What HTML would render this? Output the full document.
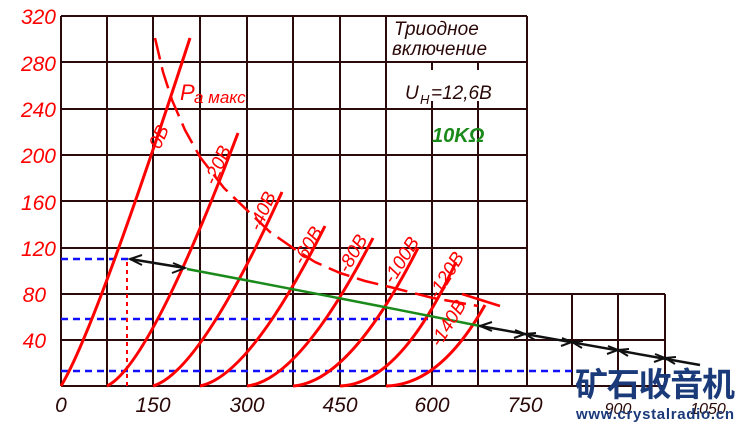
<!DOCTYPE html>
<html><head><meta charset="utf-8"><style>
html,body{margin:0;padding:0;background:#fff;}
svg{display:block;}
.r{font-family:"Liberation Sans",sans-serif;font-style:italic;fill:#f00;}
.k{font-family:"Liberation Sans",sans-serif;font-style:italic;fill:#2a0808;}
</style></head><body>
<svg width="741" height="426" viewBox="0 0 741 426" xmlns="http://www.w3.org/2000/svg">
<rect width="741" height="426" fill="#fff"/>
<g stroke="#2a0a0a" stroke-width="2" fill="none">
<line x1="61" y1="16" x2="61" y2="386"/>
<line x1="107" y1="16" x2="107" y2="386"/>
<line x1="153" y1="16" x2="153" y2="386"/>
<line x1="200" y1="16" x2="200" y2="386"/>
<line x1="247" y1="16" x2="247" y2="386"/>
<line x1="293" y1="16" x2="293" y2="386"/>
<line x1="340" y1="16" x2="340" y2="386"/>
<line x1="386" y1="16" x2="386" y2="386"/>
<line x1="432" y1="109" x2="432" y2="386"/>
<line x1="478" y1="109" x2="478" y2="386"/>
<line x1="527" y1="16" x2="527" y2="386"/>
<line x1="572" y1="294" x2="572" y2="386"/>
<line x1="618" y1="294" x2="618" y2="386"/>
<line x1="665" y1="294" x2="665" y2="386"/>
<line x1="432" y1="62" x2="432" y2="70"/><line x1="478" y1="62" x2="478" y2="70"/>
<line x1="432" y1="101" x2="432" y2="109"/><line x1="478" y1="101" x2="478" y2="109"/>
<line x1="61" y1="16" x2="527" y2="16"/>
<line x1="61" y1="62" x2="527" y2="62"/>
<line x1="61" y1="109" x2="527" y2="109"/>
<line x1="61" y1="155" x2="527" y2="155"/>
<line x1="61" y1="201" x2="527" y2="201"/>
<line x1="61" y1="248" x2="527" y2="248"/>
<line x1="61" y1="294" x2="665" y2="294"/>
<line x1="61" y1="340" x2="665" y2="340"/>
<line x1="61" y1="386" x2="665" y2="386"/>
</g>
<g stroke="#1010ff" stroke-width="2.5" stroke-dasharray="7,5" fill="none">
<line x1="61" y1="259" x2="128" y2="259"/>
<line x1="61" y1="319" x2="432" y2="319"/>
<line x1="61" y1="371" x2="575" y2="371"/>
</g>
<line x1="127" y1="262" x2="127" y2="386" stroke="#f00" stroke-width="2" stroke-dasharray="4,4"/>
<g stroke="#f00" stroke-width="3" fill="none">
<path d="M61,386 Q95,330 190,38"/>
<path d="M107,386 Q150,365 238,133"/>
<path d="M153,386 Q200,372 282,192"/>
<path d="M200,386 Q250,376 325,226"/>
<path d="M247,386 Q300,380 373,238"/>
<path d="M293,386 Q350,382 418,248"/>
<path d="M340,386 Q400,384 456,262"/>
<path d="M386,386 Q440,385 485,305"/>
</g>
<path d="M155,38 L163,72 L172,100 L185,130 L200,157 L224,188 L250,213 L270,232 L293,248 L315,262 L340,273 L365,281 L390,287 L433,298 L478,306" stroke="#f00" stroke-width="2.5" fill="none" stroke-dasharray="22,8" stroke-linejoin="round"/>
<line x1="462" y1="294" x2="500" y2="306" stroke="#f00" stroke-width="2.5"/>
<path d="M187,269 Q330,296 480,326" stroke="#1a8a1a" stroke-width="2.5" fill="none"/>
<line x1="130" y1="259" x2="185" y2="268" stroke="#111" stroke-width="2.5"/>
<path d="M142,255 L130,259 L142,265 M173,263 L185,268 L172,273" stroke="#111" stroke-width="2" fill="none"/>
<line x1="480" y1="326" x2="700" y2="365" stroke="#111" stroke-width="2.5"/>
<g stroke="#111" stroke-width="2" fill="none">
<path d="M492,322 L480,326 L492,331"/>
<path d="M515,330 L525,334 L514,338 M536,333 L525,334 L535,340"/>
<path d="M562,338 L572,342 L561,346 M583,341 L572,342 L582,348"/>
<path d="M608,346 L618,350 L607,354 M629,349 L618,350 L628,356"/>
<path d="M655,354 L665,358 L654,362 M676,357 L665,358 L675,364"/>
</g>
<g class="r" font-size="21" text-anchor="end">
<text x="56" y="24">320</text><text x="56" y="71">280</text><text x="56" y="117">240</text>
<text x="56" y="163">200</text><text x="56" y="210">160</text><text x="56" y="256">120</text>
<text x="46" y="302">80</text><text x="46" y="348">40</text>
</g>
<g class="k" font-size="21" text-anchor="middle">
<text x="61" y="412">0</text><text x="153" y="412">150</text><text x="247" y="412">300</text>
<text x="340" y="412">450</text><text x="432" y="412">600</text><text x="525" y="412">750</text>
<text x="618" y="414" font-size="16">900</text><text x="708" y="414" font-size="16">1050</text>
</g>
<g class="r" font-size="19">
<text x="0" y="0" transform="translate(160,150) rotate(-66)">0В</text>
<text x="0" y="0" transform="translate(215,186) rotate(-66)">-20В</text>
<text x="0" y="0" transform="translate(260,232) rotate(-66)">-40В</text>
<text x="0" y="0" transform="translate(303,266) rotate(-60)">-60В</text>
<text x="0" y="0" transform="translate(348,274) rotate(-60)">-80В</text>
<text x="0" y="0" transform="translate(393,285) rotate(-58)">-100В</text>
<text x="0" y="0" transform="translate(438,300) rotate(-58)">-120В</text>
<text x="0" y="0" transform="translate(440,348) rotate(-58)">-140В</text>
<text x="180" y="100" font-size="22">P</text><text x="194" y="103" font-size="17">a макс</text>
</g>
<g class="k" font-size="19">
<text x="394" y="35">Триодное</text>
<text x="392" y="55">включение</text>
<text x="405" y="99">U</text><text x="420" y="104" font-size="13">H</text><text x="431" y="99">=12,6В</text>
</g>
<text x="432" y="142" font-family="Liberation Sans,sans-serif" font-style="italic" font-weight="bold" font-size="20" fill="#1a8a1a">10KΩ</text>
<text x="575" y="396" font-family="'Noto Sans CJK SC',sans-serif" font-weight="bold" font-size="33" fill="#1a3a7a" textLength="160">矿石收音机</text>
<text x="576" y="419" font-family="Liberation Sans,sans-serif" font-weight="bold" font-size="15" fill="#1a3a7a" textLength="158">www.crystalradio.cn</text>
</svg>
</body></html>
